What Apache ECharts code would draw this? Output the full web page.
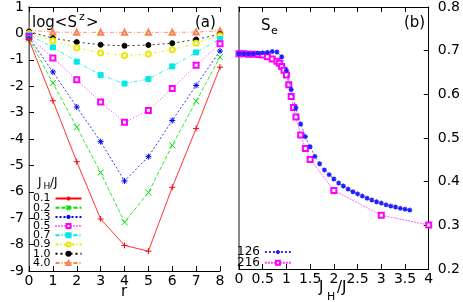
<!DOCTYPE html>
<html><head><meta charset="utf-8">
<script src="https://cdn.jsdelivr.net/npm/echarts@6/dist/echarts.min.js"></script>
<style>html,body{margin:0;padding:0;background:#fff}#c{width:463px;height:302px}</style>
</head><body><div id="c"></div>
<script>
// ---- Panel (a): log<S^z> vs r ----
const rValues = [0,1,2,3,4,5,6,7,8];
const namesA = ['0.1','0.2','0.3','0.5','0.7','0.9','1.0','4.0'];
const logSz_01 = [-0.25,-2.55,-4.86,-7.03,-8.03,-8.25,-5.83,-3.60,-1.28];
const logSz_02 = [-0.20,-1.88,-3.55,-5.27,-7.15,-6.03,-4.24,-2.57,-0.90];
const logSz_03 = [-0.15,-1.46,-2.79,-4.10,-5.59,-4.67,-3.30,-1.97,-0.67];
const logSz_05 = [-0.12,-0.93,-1.76,-2.60,-3.37,-2.92,-2.09,-1.21,-0.39];
const logSz_07 = [-0.05,-0.53,-1.07,-1.58,-1.90,-1.73,-1.25,-0.72,-0.21];
const logSz_09 = [0.00,-0.28,-0.54,-0.74,-0.84,-0.78,-0.62,-0.37,-0.09];
const logSz_10 = [0.07,-0.18,-0.33,-0.43,-0.47,-0.44,-0.37,-0.23,-0.03];
const logSz_40 = [0.12,0.05,0.04,0.04,0.04,0.04,0.04,0.05,0.10];
const axisA_x = {min:0, max:8, interval:1};
const axisA_y = {min:-9, max:1, interval:1};

// ---- Panel (b): S_e vs J_H/J ----
const namesB = ['126','216'];
const jh126 = [0,0.1,0.2,0.3,0.4,0.5,0.6,0.7,0.8,0.9,1.0,1.1,1.2,1.3,1.4,1.5,1.6,1.7,1.8,1.9,2.0,2.1,2.2,2.3,2.4,2.5,2.6,2.7,2.8,2.9,3.0,3.1,3.2,3.3,3.4,3.5,3.6];
const se126 = [0.693,0.693,0.693,0.693,0.694,0.695,0.696,0.698,0.697,0.686,0.655,0.611,0.569,0.532,0.503,0.480,0.458,0.441,0.427,0.416,0.406,0.397,0.390,0.383,0.377,0.372,0.367,0.362,0.358,0.354,0.351,0.347,0.344,0.342,0.339,0.337,0.335];
const jh216 = [0,0.1,0.2,0.3,0.4,0.5,0.6,0.7,0.8,0.85,0.9,0.95,1.0,1.05,1.1,1.15,1.2,1.3,1.4,1.5,2,3,4];
const se216 = [0.693,0.693,0.692,0.692,0.691,0.690,0.686,0.681,0.676,0.671,0.664,0.655,0.644,0.622,0.595,0.570,0.548,0.507,0.476,0.451,0.380,0.323,0.301];
const axisB_x = {min:0, max:4, interval:0.5};
const axisB_y = {min:0.2, max:0.8, interval:0.1};

const FONT = 'DejaVu Sans';
const chart = echarts.init(document.getElementById('c'), null, {renderer:'canvas'});

const plusSym = 'path://M5,0L5,10M0,5L10,5';
const crossSym = 'path://M0,0L10,10M10,0L0,10';
const starSym = 'path://M5,0L5,10M0,5L10,5M1.5,1.5L8.5,8.5M8.5,1.5L1.5,8.5';

const stylesA = [
  {c:'#ff0000', sym:plusSym, type:'solid', path:true},
  {c:'#00e000', sym:crossSym, type:[4,2], path:true},
  {c:'#0000ff', sym:starSym, type:[2,2], path:true},
  {c:'#ff00ff', sym:'emptyRect', type:[1,2]},
  {c:'#00e8e8', sym:'rect', type:[4,2,1,2]},
  {c:'#e8e800', sym:'emptyCircle', type:[3,2,1,2]},
  {c:'#000000', sym:'circle', type:[2,3]},
  {c:'#ff8050', sym:'emptyTriangle', type:[4,2,1,2]}
];
const valsA = [logSz_01,logSz_02,logSz_03,logSz_05,logSz_07,logSz_09,logSz_10,logSz_40];

const series = [];
namesA.forEach((n,i)=>{
  const s = stylesA[i];
  series.push({
    name:n, type:'line', xAxisIndex:0, yAxisIndex:0,
    data: rValues.map((r,k)=>[r, valsA[i][k]]),
    symbol:s.sym, symbolSize: s.path?6:5,
    lineStyle:{color:s.c, width:0.8, type:s.type},
    itemStyle:{color: s.c, borderColor:s.c, borderWidth:1},
    z: 10-i
  });
});
series.push({
  name:'126', type:'line', xAxisIndex:2, yAxisIndex:2,
  data: jh126.map((x,k)=>[x, se126[k]]),
  symbol:starSym, symbolSize:5,
  lineStyle:{color:'#3030ff', width:0.8, type:[2,2]},
  itemStyle:{color:'#0000ff', borderColor:'#2020ff', borderWidth:1.2}, z:5
});
series.push({
  name:'216', type:'line', xAxisIndex:2, yAxisIndex:2,
  data: jh216.map((x,k)=>[x, se216[k]]),
  symbol:'emptyRect', symbolSize:5,
  lineStyle:{color:'#ff40ff', width:0.8, type:[2,1]},
  itemStyle:{color:'#ff00ff', borderColor:'#ff00ff', borderWidth:1}, z:4
});

const lbl = {fontFamily:FONT, fontSize:14, color:'#000'};
function axisCommon(extra){
  return Object.assign({
    type:'value', splitLine:{show:false},
    axisLine:{show:true, onZero:false, lineStyle:{color:'#000', width:1}},
    axisTick:{show:true, inside:true, length:5, lineStyle:{color:'#000'}},
    axisLabel:{show:false}
  }, extra);
}

const option = {
  animation:false,
  backgroundColor:'#fff',
  grid:[
    {left:29, top:6, width:191, height:265},
    {left:239, top:7, width:191, height:262}
  ],
  xAxis:[
    axisCommon(Object.assign({gridIndex:0, position:'bottom', axisLabel:Object.assign({show:true, margin:3}, lbl)}, axisA_x)),
    axisCommon(Object.assign({gridIndex:0, position:'top'}, axisA_x)),
    axisCommon(Object.assign({gridIndex:1, position:'bottom', axisLabel:Object.assign({show:true, margin:3}, lbl)}, axisB_x)),
    axisCommon(Object.assign({gridIndex:1, position:'top'}, axisB_x))
  ],
  yAxis:[
    axisCommon(Object.assign({gridIndex:0, position:'left', axisLabel:Object.assign({show:true, margin:5}, lbl)}, axisA_y)),
    axisCommon(Object.assign({gridIndex:0, position:'right', axisTick:{show:false}, axisLine:{show:true, lineStyle:{color:'#888', width:1.5}}}, axisA_y)),
    axisCommon(Object.assign({gridIndex:1, position:'right', axisLabel:Object.assign({show:true, margin:9}, lbl)}, axisB_y)),
    axisCommon(Object.assign({gridIndex:1, position:'left', axisTick:{show:false}, axisLine:{show:true, lineStyle:{color:'#888', width:2}}}, axisB_y))
  ],
  legend:[
    {data:namesA, orient:'vertical', left:33, top:193, align:'right', itemGap:-1.8,
     itemWidth:26, itemHeight:5, padding:0,
     textStyle:{fontFamily:FONT, fontSize:11, lineHeight:9.1, color:'#000', padding:0}},
    {data:namesB, orient:'vertical', left:237, top:246, align:'right', itemGap:-1.2,
     itemWidth:26, itemHeight:5, padding:0,
     textStyle:{fontFamily:FONT, fontSize:12, lineHeight:10.8, color:'#000', padding:0}}
  ],
  graphic:[
    {type:'text', x:32, y:23, style:{text:'log<S', font:'15px "DejaVu Sans"', fill:'#000', verticalAlign:'middle'}},
    {type:'text', x:79, y:17, style:{text:'z', font:'11px "DejaVu Sans"', fill:'#000', verticalAlign:'middle'}},
    {type:'text', x:86, y:23, style:{text:'>', font:'15px "DejaVu Sans"', fill:'#000', verticalAlign:'middle'}},
    {type:'text', x:195, y:23, style:{text:'(a)', font:'15px "DejaVu Sans"', fill:'#000', verticalAlign:'middle'}},
    {type:'text', x:261, y:26, style:{text:'S', font:'15px "DejaVu Sans"', fill:'#000', verticalAlign:'middle'}},
    {type:'text', x:271, y:31, style:{text:'e', font:'11px "DejaVu Sans"', fill:'#000', verticalAlign:'middle'}},
    {type:'text', x:404, y:23, style:{text:'(b)', font:'15px "DejaVu Sans"', fill:'#000', verticalAlign:'middle'}},
    {type:'text', x:124, y:292, style:{text:'r', font:'15px "DejaVu Sans"', fill:'#000', verticalAlign:'middle', align:'center'}},
    {type:'text', x:319, y:288, style:{text:'J', font:'15px "DejaVu Sans"', fill:'#000', verticalAlign:'middle'}},
    {type:'text', x:327, y:297, style:{text:'H', font:'11px "DejaVu Sans"', fill:'#000', verticalAlign:'middle'}},
    {type:'text', x:337, y:288, style:{text:'/J', font:'15px "DejaVu Sans"', fill:'#000', verticalAlign:'middle'}},
    {type:'text', x:38, y:182.5, style:{text:'J', font:'12px "DejaVu Sans"', fill:'#000', verticalAlign:'middle'}},
    {type:'text', x:43.5, y:187, style:{text:'H', font:'9px "DejaVu Sans"', fill:'#000', verticalAlign:'middle'}},
    {type:'text', x:50, y:182.5, style:{text:'/J', font:'12px "DejaVu Sans"', fill:'#000', verticalAlign:'middle'}}
  ],
  series: series
};
chart.setOption(option);
</script>
</body></html>
